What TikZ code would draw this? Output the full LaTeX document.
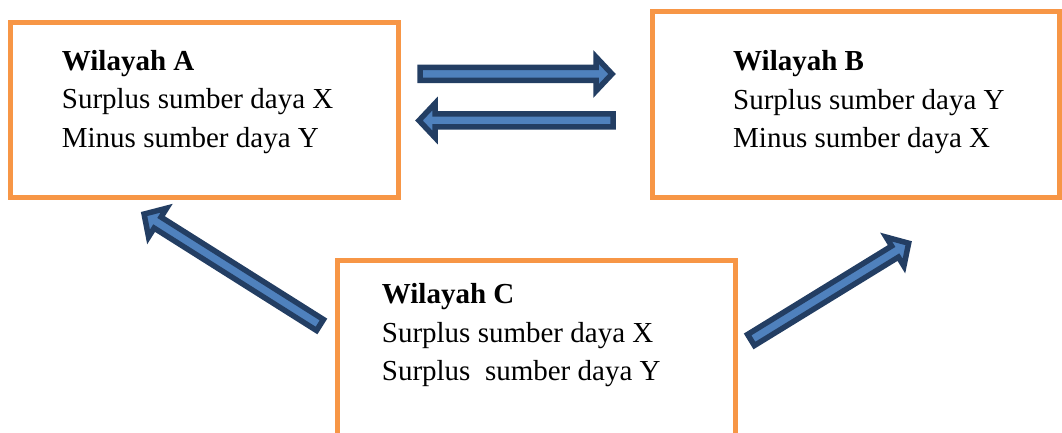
\documentclass[tikz,border=0pt]{standalone}
\usepackage{fontspec}
\setmainfont{Liberation Serif}
\definecolor{boxorange}{HTML}{F79646}
\definecolor{arrowfill}{HTML}{4F81BD}
\definecolor{arrowedge}{HTML}{233E63}
\tikzset{
  regionbox/.style={draw=boxorange, line width=5pt},
  txt/.style={anchor=base west, inner sep=0pt, font=\fontsize{29}{38}\selectfont},
  arrowsty/.style={draw=arrowedge, fill=arrowfill, line width=5.5pt, line join=miter},
  pics/blockarrow/.style={code={
    \draw[arrowsty] (0,-6.5) -- (#1-16,-6.5) -- (#1-16,-17) -- (#1,0)
      -- (#1-16,17) -- (#1-16,6.5) -- (0,6.5) -- cycle;}}
}
\begin{document}
\begin{tikzpicture}[x=1pt,y=-1pt]
\useasboundingbox (0,0) rectangle (1062,433);
\clip (0,0) rectangle (1062,433);
% boxes
\draw[regionbox] (10.5,22.7) rectangle (398,197) node[pos=0.5] (A) {};
\draw[regionbox] (652.7,12) rectangle (1059,197) node[pos=0.5] (B) {};
\draw[regionbox] (337,260) rectangle (735,470) node[pos=0.5] (C) {};
% texts
\node[txt] (A1) at (61.7,71) {\textbf{Wilayah A}};
\node[txt] (A2) at (61.7,109) {Surplus sumber daya X};
\node[txt] (A3) at (61.7,147) {Minus sumber daya Y};
\node[txt] (B1) at (733,71) {\textbf{Wilayah B}};
\node[txt] (B2) at (733,110) {Surplus sumber daya Y};
\node[txt] (B3) at (733,147) {Minus sumber daya X};
\node[txt] (C1) at (381.7,303) {\textbf{Wilayah C}};
\node[txt] (C2) at (381.7,342) {Surplus sumber daya X};
\node[txt] (C3) at (381.7,380) {Surplus\ \ sumber daya Y};
% arrows
\coordinate (s1) at (420,74);
\coordinate (s2) at (613,120.5);
\coordinate (s3) at (320,325);
\coordinate (s4) at (751,340);
\pic[rotate=0] at (s1) {blockarrow=192};
\pic[rotate=180] at (s2) {blockarrow=194};
\pic[rotate=147.76] at (s3) {blockarrow=208};
\pic[rotate=31.55] at (s4) {blockarrow=185};
\end{tikzpicture}
\end{document}
